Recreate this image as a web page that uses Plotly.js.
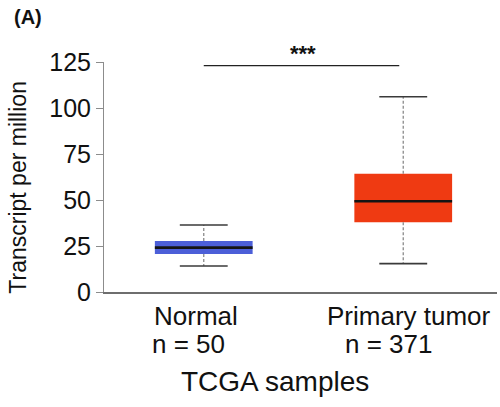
<!DOCTYPE html>
<html>
<head>
<meta charset="utf-8">
<script src="https://cdn.plot.ly/plotly-3.0.1.min.js"></script>
<style>html,body{margin:0;padding:0;background:#fff;}#chart{width:500px;height:407px;}</style>
</head>
<body>
<div id="chart"></div>
<script>
// Data
const groups = ["Normal", "Primary tumor"];
const counts = ["n = 50", "n = 371"];
const positions = [0, 1];
const lowerWhisker = [14.1, 15.4];
const q1 = [20.7, 37.9];
const median = [24.1, 49.3];
const q3 = [27.7, 64.3];
const upperWhisker = [36.4, 106.1];
const boxColors = ["#4c5fd8", "#ef3a12"];
const yTicks = [0, 25, 50, 75, 100, 125];
const signif = "***";
const signifLevel = 123;

const FONT = "Liberation Sans, Arial, Helvetica, sans-serif";
const boxW = 0.49, capW = 0.24;

const traces = [];
groups.forEach((g, i) => {
  const x = positions[i];
  traces.push({
    type: "box", name: g, x: [x],
    q1: [q1[i]], median: [median[i]], q3: [q3[i]],
    lowerfence: [lowerWhisker[i]], upperfence: [upperWhisker[i]],
    width: boxW, fillcolor: boxColors[i],
    line: {color: boxColors[i], width: 0}, whiskerwidth: 0,
    boxpoints: false, hoverinfo: "skip", showlegend: false
  });
  // dashed whiskers
  traces.push({type: "scatter", mode: "lines", x: [x, x, null, x, x],
    y: [q3[i], upperWhisker[i], null, q1[i], lowerWhisker[i]],
    line: {color: "#8a8a8a", width: 1.3, dash: "3px,2px"}, showlegend: false, hoverinfo: "skip"});
  // caps
  traces.push({type: "scatter", mode: "lines",
    x: [x - capW / 2, x + capW / 2, null, x - capW / 2, x + capW / 2],
    y: [upperWhisker[i], upperWhisker[i], null, lowerWhisker[i], lowerWhisker[i]],
    line: {color: "#3a3a3a", width: 1.6}, showlegend: false, hoverinfo: "skip"});
  // median
  traces.push({type: "scatter", mode: "lines",
    x: [x - boxW / 2, x + boxW / 2], y: [median[i], median[i]],
    line: {color: "#141414", width: 2.6}, showlegend: false, hoverinfo: "skip"});
});

const annotations = [
  {xref: "paper", yref: "paper", x: -0.235, y: 1.195, xanchor: "left", yanchor: "middle",
   text: "<b>(A)</b>", showarrow: false, font: {family: FONT, size: 20, color: "#111"}},
  {xref: "x", yref: "y", x: 0.5, y: signifLevel, yanchor: "bottom", yshift: -2,
   text: "<b>" + signif + "</b>", showarrow: false, font: {family: FONT, size: 22, color: "#111"}},
  {xref: "paper", yref: "paper", x: -0.218, y: 0.455, xanchor: "center", yanchor: "middle",
   textangle: -90, text: "Transcript per million", showarrow: false,
   font: {family: FONT, size: 23, color: "#111"}},
  {xref: "paper", yref: "paper", x: 0.436, y: -0.39, xanchor: "center", yanchor: "middle",
   text: "TCGA samples", showarrow: false, font: {family: FONT, size: 28, color: "#111"}}
];
const labelX = [-0.04, 0.03];
const countX = [-0.075, -0.075];
groups.forEach((g, i) => {
  annotations.push({xref: "x", yref: "paper", x: positions[i] + labelX[i], y: -0.105, yanchor: "middle",
    text: g, showarrow: false, font: {family: FONT, size: 26, color: "#111"}});
  annotations.push({xref: "x", yref: "paper", x: positions[i] + countX[i], y: -0.225, yanchor: "middle",
    text: counts[i], showarrow: false, font: {family: FONT, size: 26, color: "#111"}});
});

const layout = {
  width: 500, height: 407,
  margin: {l: 104, r: 3, t: 62, b: 115},
  paper_bgcolor: "#fff", plot_bgcolor: "#fff",
  showlegend: false,
  xaxis: {range: [-0.5, 1.47], showgrid: false, zeroline: false, showline: true,
    linecolor: "#6e6e6e", linewidth: 1.5, showticklabels: false, ticks: "", fixedrange: true},
  yaxis: {range: [0, 125], tickvals: yTicks, showgrid: false, zeroline: false, showline: true,
    linecolor: "#8c8c8c", linewidth: 1, ticks: "outside", ticklen: 7, tickcolor: "#8c8c8c",
    tickfont: {family: FONT, size: 25, color: "#111"}, fixedrange: true},
  shapes: [{type: "line", xref: "x", yref: "y", x0: positions[0], x1: positions[1] - 0.02,
    y0: signifLevel, y1: signifLevel, line: {color: "#222", width: 1.3}}],
  annotations: annotations
};

Plotly.newPlot("chart", traces, layout, {staticPlot: true, displayModeBar: false});
</script>
</body>
</html>
